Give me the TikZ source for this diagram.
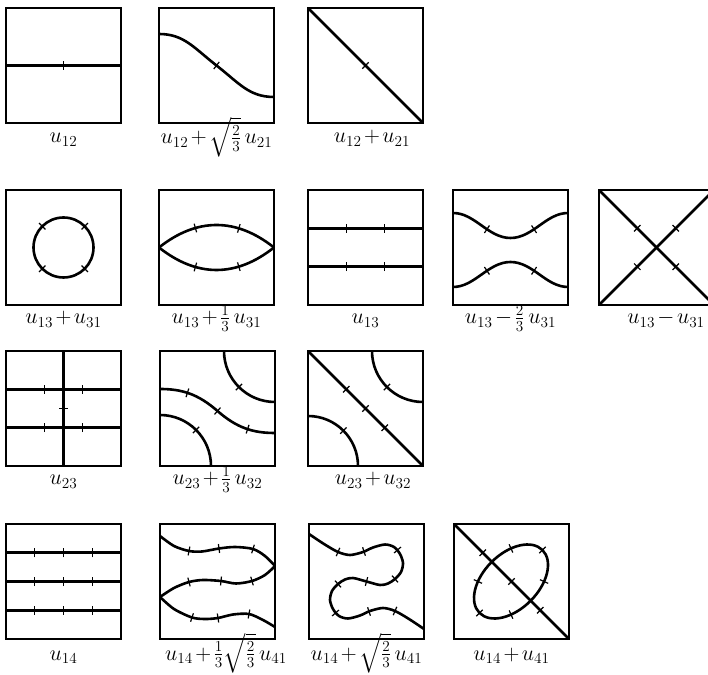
\documentclass[tikz,border=0pt]{standalone}
\usepackage{amsmath}
\usepackage{tikz}
\usetikzlibrary{decorations.markings}

% short cross line on a curve: point, direction of the line
\newcommand{\notchat}[2]{\draw[tickmark] #1 ++(#2:4.5) -- ++(#2:-9);}

\begin{document}
\begin{tikzpicture}[
  x=1pt, y=1pt,
  frame/.style={line width=1.3pt},
  curve/.style={line width=2.6pt},
  tickmark/.style={line width=1.2pt},
  notch/.style={postaction={decorate, decoration={markings,
      mark=at position #1 with {\draw[tickmark] (0,-4.5pt) -- (0,4.5pt);}}}},
  formula/.style={anchor=base, scale=1.06, font={\huge\medmuskip=2mu}}
]
  \useasboundingbox (0,0) rectangle (708,674);

  % first row
  \begin{scope}[shift={(6,551)}]
    \draw[frame] (0,0) rectangle (115,115);
    \draw[curve, notch=0.5] (0,57.5) -- (115,57.5);
    \node[formula] (f12) at (57.5,-20) {$u_{12}$};
  \end{scope}

  \begin{scope}[shift={(159,551)}]
    \draw[frame] (0,0) rectangle (115,115);
    \draw[curve, notch=0.5] (0,89) .. controls (25,89) and (35,75) .. (57.5,57.5)
      .. controls (80,40) and (90,26) .. (115,26);
    \node[formula] (f12s21) at (57.5,-21) {$u_{12}+\sqrt{\tfrac{2}{3}}\,u_{21}$};
  \end{scope}

  \begin{scope}[shift={(308,551)}]
    \draw[frame] (0,0) rectangle (115,115);
    \draw[curve, notch=0.5] (0,115) -- (115,0);
    \node[formula] (f12p21) at (64,-20) {$u_{12}+u_{21}$};
  \end{scope}

  % second row
  \begin{scope}[shift={(6,369)}]
    \draw[frame] (0,0) rectangle (115,115);
    \draw[curve, notch=0.125, notch=0.375, notch=0.625, notch=0.875]
      (57.5,57.5) circle [radius=30];
    \node[formula] (f13p31) at (57.5,-19) {$u_{13}+u_{31}$};
  \end{scope}

  \begin{scope}[shift={(159,369)}]
    \draw[frame] (0,0) rectangle (115,115);
    \draw[curve, notch=0.33, notch=0.68] (0,57.5) .. controls (38,87.5) and (77,87.5) .. (115,57.5);
    \draw[curve, notch=0.33, notch=0.68] (0,57.5) .. controls (38,27.5) and (77,27.5) .. (115,57.5);
    \node[formula] (f13t31) at (57.5,-19) {$u_{13}+\tfrac{1}{3}\,u_{31}$};
  \end{scope}

  \begin{scope}[shift={(308,369)}]
    \draw[frame] (0,0) rectangle (115,115);
    \draw[curve, notch=0.333, notch=0.667] (0,76.7) -- (115,76.7);
    \draw[curve, notch=0.333, notch=0.667] (0,38.3) -- (115,38.3);
    \node[formula] (f13) at (57.5,-19) {$u_{13}$};
  \end{scope}

  \begin{scope}[shift={(453,369)}]
    \draw[frame] (0,0) rectangle (115,115);
    \draw[curve, notch=0.3, notch=0.7] (0,92) .. controls (22,92) and (35,67) .. (57.5,67)
      .. controls (80,67) and (93,92) .. (115,92);
    \draw[curve, notch=0.3, notch=0.7] (0,18) .. controls (22,18) and (35,43) .. (57.5,43)
      .. controls (80,43) and (93,18) .. (115,18);
    \node[formula] (f13m31) at (57.5,-19) {$u_{13}-\tfrac{2}{3}\,u_{31}$};
  \end{scope}

  \begin{scope}[shift={(599,369)}]
    \draw[frame] (0,0) rectangle (115,115);
    \draw[curve, notch=0.333, notch=0.667] (0,115) -- (115,0);
    \draw[curve, notch=0.333, notch=0.667] (0,0) -- (115,115);
    \node[formula] (f13d31) at (67,-19) {$u_{13}-u_{31}$};
  \end{scope}

  % third row
  \begin{scope}[shift={(6,208)}]
    \draw[frame] (0,0) rectangle (115,115);
    \draw[curve, notch=0.333, notch=0.667] (0,76.7) -- (115,76.7);
    \draw[curve, notch=0.333, notch=0.667] (0,38.3) -- (115,38.3);
    \draw[curve, notch=0.5] (57.5,115) -- (57.5,0);
    \node[formula] (f23) at (57.5,-19) {$u_{23}$};
  \end{scope}

  \begin{scope}[shift={(160,208)}]
    \draw[frame] (0,0) rectangle (115,115);
    \draw[curve, notch=0.5] (64,115) arc [start angle=180, end angle=270, radius=51];
    \draw[curve, notch=0.5] (0,51) arc [start angle=90, end angle=0, radius=51];
    \draw[curve, notch=0.22, notch=0.5, notch=0.78]
      (0,77) .. controls (22,77) and (38,72) .. (57.5,55)
      .. controls (77,38) and (93,33) .. (115,33);
    \node[formula] (f23t32) at (57.5,-19) {$u_{23}+\tfrac{1}{3}\,u_{32}$};
  \end{scope}

  \begin{scope}[shift={(308,208)}]
    \draw[frame] (0,0) rectangle (115,115);
    \draw[curve, notch=0.5] (64,115) arc [start angle=180, end angle=270, radius=51];
    \draw[curve, notch=0.5] (0,50) arc [start angle=90, end angle=0, radius=50];
    \draw[curve, notch=0.333, notch=0.5, notch=0.667] (0,115) -- (115,0);
    \node[formula] (f23p32) at (65,-19) {$u_{23}+u_{32}$};
  \end{scope}

  % fourth row
  \begin{scope}[shift={(6,35)}]
    \draw[frame] (0,0) rectangle (115,115);
    \foreach \h in {28.75, 57.5, 86.25}
      \draw[curve, notch=0.25, notch=0.5, notch=0.75] (0,\h) -- (115,\h);
    \node[formula] (f14) at (57.5,-21) {$u_{14}$};
  \end{scope}

  \begin{scope}[shift={(160,35)}]
    \draw[frame] (0,0) rectangle (115,115);
    \draw[curve] plot[smooth] coordinates
      {(0,103) (14,93) (29,88) (42,87.5) (59,90.5) (75,92) (93,90) (105,83) (115,73)};
    \draw[curve] plot[smooth] coordinates
      {(0,42) (14,51) (29,57) (43,59) (61,58) (76,55.5) (92,58) (105,64) (115,73)};
    \draw[curve] plot[smooth] coordinates
      {(0,42) (14,30) (32,21.5) (45,20) (58,21) (73,24.5) (89,25) (103,19) (115,12)};
    \notchat{(29,88)}{79} \notchat{(59,90.5)}{98} \notchat{(93,90)}{73}
    \notchat{(29,57)}{105} \notchat{(61,58)}{84} \notchat{(92,58)}{106}
    \notchat{(32,21.5)}{72} \notchat{(58,21)}{99} \notchat{(89,25)}{80}
    \node[formula] (f14t41) at (66,-21) {$u_{14}+\tfrac{1}{3}\sqrt{\tfrac{2}{3}}\,u_{41}$};
  \end{scope}

  \begin{scope}[shift={(309,35)}]
    \draw[frame] (0,0) rectangle (115,115);
    \draw[curve] plot[smooth] coordinates
      {(0,105) (15,95) (29,87) (41,84) (54,87) (64,91.5) (76,94.5) (85,92) (91,85)
       (94,76) (92,67) (86,60) (79,55.5) (71,54) (57.5,57.5) (44,61) (36,59.5)
       (29,55) (23,48) (21,39) (24,30) (30,23) (39,20.5) (51,23.5) (61,28)
       (74,31) (86,28) (100,20) (115,10)};
    \notchat{(29,87)}{67} \notchat{(55,87.5)}{108} \notchat{(88.5,89)}{41}
    \notchat{(86,60)}{132} \notchat{(57.5,57.5)}{75} \notchat{(29,55)}{132}
    \notchat{(26.5,26)}{41} \notchat{(60,27.5)}{108} \notchat{(86,28)}{67}
    \node[formula] (f14s41) at (57.5,-21) {$u_{14}+\sqrt{\tfrac{2}{3}}\,u_{41}$};
  \end{scope}

  \begin{scope}[shift={(454,35)}]
    \draw[frame] (0,0) rectangle (115,115);
    \draw[curve, notch=0.25, notch=0.5, notch=0.75] (0,115) -- (115,0);
    \draw[curve, rotate around={45:(57,57.5)}, notch=0, notch=0.146, notch=0.354,
      notch=0.5, notch=0.646, notch=0.854]
      (57,57.5) ellipse [x radius=44.5, y radius=27.5];
    \node[formula] (f14p41) at (57.5,-21) {$u_{14}+u_{41}$};
  \end{scope}
\end{tikzpicture}
\end{document}
